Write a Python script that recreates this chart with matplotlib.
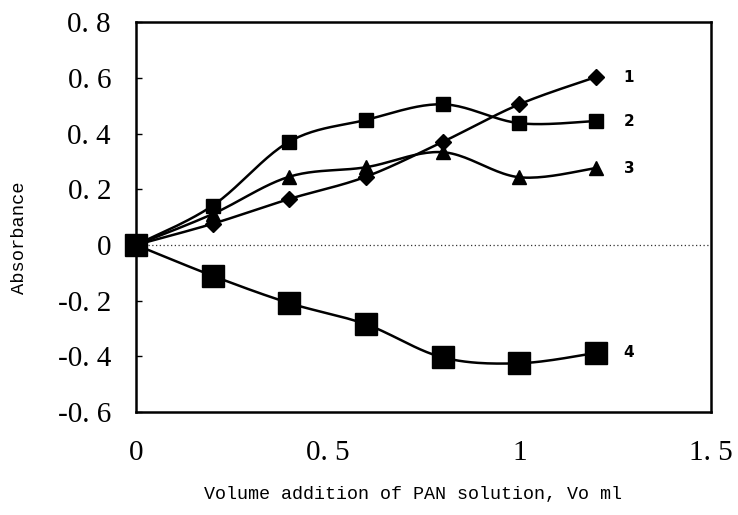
import numpy as np
import matplotlib
matplotlib.use("Agg")
import matplotlib.pyplot as plt
from matplotlib.ticker import FixedLocator, FixedFormatter

# ---- data ----
volume = [0.0, 0.2, 0.4, 0.6, 0.8, 1.0, 1.2]
series1 = [0.0, 0.076, 0.165, 0.245, 0.370, 0.505, 0.603]   # diamonds
series2 = [0.0, 0.141, 0.371, 0.449, 0.505, 0.437, 0.445]   # small squares
series3 = [0.0, 0.111, 0.245, 0.279, 0.333, 0.243, 0.276]   # triangles
series4 = [0.0, -0.111, -0.209, -0.285, -0.404, -0.425, -0.388]  # big squares
series_labels = ["1", "2", "3", "4"]

yticks = [-0.6, -0.4, -0.2, 0.0, 0.2, 0.4, 0.6, 0.8]
ytick_labels = ["-0. 6", "-0. 4", "-0. 2", "0", "0. 2", "0. 4", "0. 6", "0. 8"]
xticks = [0.0, 0.5, 1.0, 1.5]
xtick_labels = ["0", "0. 5", "1", "1. 5"]


def smooth(x, y, n=24):
    """Catmull-Rom style Bezier smoothing through the data points (Excel-like)."""
    x = np.asarray(x, float)
    y = np.asarray(y, float)
    px, py = [], []
    m = len(x)
    for i in range(m - 1):
        x0, y0 = (x[i - 1], y[i - 1]) if i > 0 else (x[i], y[i])
        x1, y1 = x[i], y[i]
        x2, y2 = x[i + 1], y[i + 1]
        x3, y3 = (x[i + 2], y[i + 2]) if i + 2 < m else (x2, y2)
        c1x, c1y = x1 + (x2 - x0) / 6, y1 + (y2 - y0) / 6
        c2x, c2y = x2 - (x3 - x1) / 6, y2 - (y3 - y1) / 6
        t = np.linspace(0, 1, n, endpoint=(i == m - 2))
        bx = (1 - t) ** 3 * x1 + 3 * (1 - t) ** 2 * t * c1x + 3 * (1 - t) * t ** 2 * c2x + t ** 3 * x2
        by = (1 - t) ** 3 * y1 + 3 * (1 - t) ** 2 * t * c1y + 3 * (1 - t) * t ** 2 * c2y + t ** 3 * y2
        px.extend(bx)
        py.extend(by)
    return np.array(px), np.array(py)


fig = plt.figure(figsize=(7.38, 5.15), dpi=100)
ax = fig.add_axes([0.1843, 0.2, 0.9634 - 0.1843, 0.957 - 0.2])

ax.plot([0.03, 1.5], [0, 0], linestyle=(0, (1, 2)), color="#333333", lw=0.9, zorder=1)

styles = [
    (series1, "D", 8.5),
    (series2, "s", 9.5),
    (series3, "^", 10.5),
    (series4, "s", 16),
]
for vals, mk, ms in styles:
    sx, sy = smooth(volume, vals)
    ax.plot(sx, sy, color="black", lw=1.8, zorder=2, solid_capstyle="round")
    ax.plot(volume, vals, linestyle="none", marker=mk, markersize=ms,
            color="black", zorder=3, clip_on=False)

for vals, lab in zip([series1, series2, series3, series4], series_labels):
    ax.annotate(lab, xy=(volume[-1], vals[-1]), xytext=(20, 0),
                textcoords="offset points", ha="left", va="center",
                fontsize=11, fontweight="bold", family="DejaVu Sans")

ax.set_xlim(0, 1.5)
ax.set_ylim(-0.6, 0.8)

ax.yaxis.set_major_locator(FixedLocator(yticks))
ax.yaxis.set_major_formatter(FixedFormatter(ytick_labels))
ax.xaxis.set_major_locator(FixedLocator(xticks))
ax.xaxis.set_major_formatter(FixedFormatter(xtick_labels))

ax.tick_params(axis="y", direction="in", length=4, width=1, pad=18,
               labelsize=21, left=True, right=False)
ax.tick_params(axis="x", length=0, pad=20, labelsize=21)
for lab in ax.get_xticklabels() + ax.get_yticklabels():
    lab.set_family("Liberation Serif")

for sp in ax.spines.values():
    sp.set_linewidth(1.8)

ax.set_ylabel("Absorbance", family="Liberation Mono", fontsize=13.5)
ax.yaxis.set_label_coords(-0.188, 0.446)
ax.set_xlabel("Volume addition of PAN solution, Vo ml", family="Liberation Mono",
              fontsize=13.2, labelpad=12)
ax.xaxis.set_label_coords(0.482, -0.19)

fig.savefig("out.png", dpi=100)
